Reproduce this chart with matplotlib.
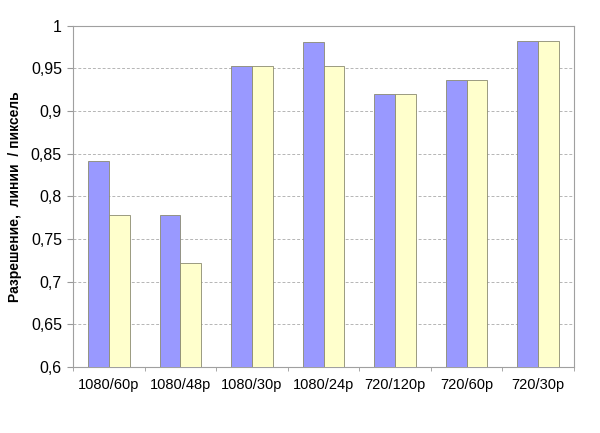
import matplotlib.pyplot as plt
import matplotlib.ticker as ticker
import numpy as np

plt.rcParams['font.family'] = ['Liberation Sans', 'DejaVu Sans']

categories = ["1080/60p", "1080/48p", "1080/30p", "1080/24p", "720/120p", "720/60p", "720/30p"]
series_a = [0.842, 0.778, 0.953, 0.981, 0.920, 0.936, 0.982]
series_b = [0.778, 0.722, 0.953, 0.953, 0.920, 0.936, 0.982]

fig = plt.figure(figsize=(6, 4.33), dpi=100)
ax = fig.add_axes([0.1217, 0.1524, 0.835, 0.788])

x = np.arange(len(categories))
w = 0.29
ax.bar(x - w / 2, series_a, width=w, color="#9999FF", edgecolor="#8a8a70", linewidth=0.6, zorder=3)
ax.bar(x + w / 2, series_b, width=w, color="#FFFFCC", edgecolor="#8a8a70", linewidth=0.6, zorder=3)

ax.set_xlim(-0.5, len(categories) - 0.5)
ax.set_ylim(0.6, 1.0)
ax.yaxis.set_major_locator(ticker.MultipleLocator(0.05))
ax.yaxis.set_major_formatter(ticker.FuncFormatter(lambda v, pos: f"{v:.2f}".rstrip("0").rstrip(".").replace(".", ",")))
ax.yaxis.grid(True, linestyle=(0, (3, 2)), color="#b5b5b5", linewidth=0.7, zorder=0)

ax.set_xticks(x)
ax.set_xticklabels(categories, fontsize=10.5)
ax.set_xticks(np.arange(-0.5, len(categories)), minor=True)
ax.tick_params(axis="x", which="major", length=0, pad=8)
ax.tick_params(axis="x", which="minor", length=3, color="#999999")
ax.tick_params(axis="y", length=4, color="#999999", labelsize=11.5, pad=4)

for s in ax.spines.values():
    s.set_color("#a0a0a0")
    s.set_linewidth(0.8)

ax.set_ylabel("Разрешение,  линии  / пиксель", fontsize=10, fontweight="bold", labelpad=6)

fig.savefig("out.png", dpi=100)
